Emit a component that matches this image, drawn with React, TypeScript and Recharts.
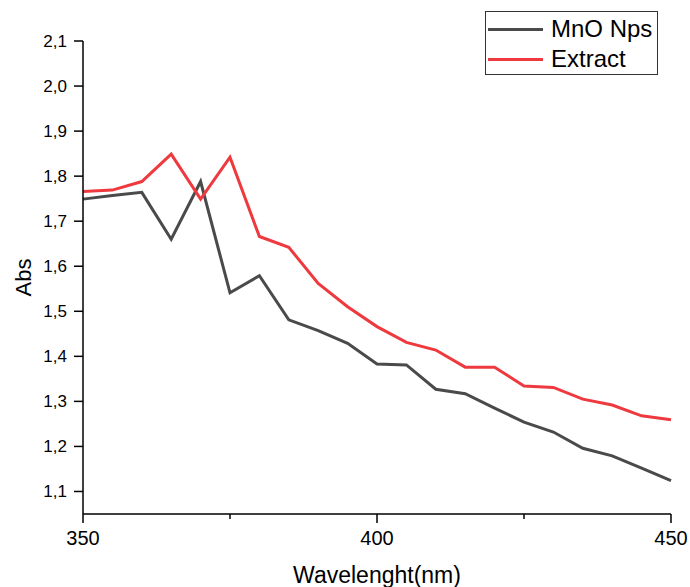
import { LineChart, Line, XAxis, YAxis } from 'recharts';

const wavelengths = [350, 355, 360, 365, 370, 375, 380, 385, 390, 395, 400, 405, 410, 415, 420, 425, 430, 435, 440, 445, 450];
const mnoNps = [1.749, 1.757, 1.764, 1.66, 1.788, 1.541, 1.579, 1.481, 1.457, 1.429, 1.383, 1.381, 1.327, 1.317, 1.285, 1.254, 1.232, 1.196, 1.179, 1.152, 1.124];
const extract = [1.766, 1.769, 1.788, 1.849, 1.749, 1.842, 1.666, 1.642, 1.562, 1.51, 1.466, 1.431, 1.414, 1.376, 1.376, 1.334, 1.331, 1.305, 1.292, 1.268, 1.259];

const xTicks = [350, 375, 400, 425, 450];
const xMajor = [350, 400, 450];
const yTicks = [1.1, 1.15, 1.2, 1.25, 1.3, 1.35, 1.4, 1.45, 1.5, 1.55, 1.6, 1.65, 1.7, 1.75, 1.8, 1.85, 1.9, 1.95, 2.0, 2.05, 2.1];

const data = wavelengths.map((w, i) => ({ w, mno: mnoNps[i], ext: extract[i] }));

const FONT = '"Liberation Sans", Arial, sans-serif';
const GRAY = '#4a4a4a';
const RED = '#ee3a3e';

const XTick = (props: any) => {
    const { x, y, payload } = props;
    const major = xMajor.includes(payload.value);
    return (
        <g>
            <line x1={x} y1={y} x2={x} y2={y + (major ? 9 : 5)} stroke="#000" strokeWidth={1.5} />
            {major && (
                <text x={x} y={y + 31} textAnchor="middle" fontSize={20} fontFamily={FONT} fill="#000">
                    {payload.value}
                </text>
            )}
        </g>
    );
};

const YTick = (props: any) => {
    const { x, y, payload } = props;
    const major = Math.round(payload.value * 100) % 10 === 0;
    return (
        <g>
            <line x1={x} y1={y} x2={x - (major ? 9 : 5)} y2={y} stroke="#000" strokeWidth={1.5} />
            {major && (
                <text x={x - 16} y={y + 6} textAnchor="end" fontSize={17} fontFamily={FONT} fill="#000">
                    {payload.value.toFixed(1).replace('.', ',')}
                </text>
            )}
        </g>
    );
};

const legendItems = [
    { name: 'MnO Nps', color: GRAY, top: 3 },
    { name: 'Extract', color: RED, top: 33 },
];

const LegendBox = () => (
    <div style={{ position: 'absolute', left: 485, top: 11, width: 171, height: 62, border: '1px solid #333', background: '#fff', fontFamily: FONT, fontSize: 24 }}>
        {legendItems.map((it) => (
            <div key={it.name} style={{ position: 'absolute', left: 2, top: it.top, display: 'flex', alignItems: 'center', height: 28 }}>
                <div style={{ width: 55, height: 3, background: it.color }} />
                <span style={{ marginLeft: 8, lineHeight: '28px' }}>{it.name}</span>
            </div>
        ))}
    </div>
);

const AbsLabel = (props: any) => {
    const vb = props.viewBox || {};
    const cy = vb.y + vb.height / 2;
    return (
        <text x={31} y={cy} transform={`rotate(-90, 31, ${cy})`} textAnchor="middle" fontSize={22} fontFamily={FONT} fill="#000">
            Abs
        </text>
    );
};

export default function App() {
    return (
        <div style={{ position: 'absolute', left: 0, top: 0, width: 690, height: 587, background: '#fff' }}>
            <LineChart width={690} height={587} data={data} margin={{ top: 41, right: 19, bottom: 0, left: 0 }}>
                <XAxis
                    dataKey="w"
                    type="number"
                    domain={[350, 450]}
                    ticks={xTicks}
                    tick={<XTick />}
                    tickSize={0}
                    tickMargin={0}
                    tickLine={false}
                    height={73}
                    axisLine={{ stroke: '#000', strokeWidth: 1.5 }}
                    label={{ value: 'Wavelenght(nm)', position: 'insideBottom', offset: 4, fontSize: 23, fontFamily: FONT, fill: '#000' }}
                />
                <YAxis
                    type="number"
                    domain={[1.05, 2.1]}
                    ticks={yTicks}
                    tick={<YTick />}
                    tickSize={0}
                    tickMargin={0}
                    tickLine={false}
                    width={83}
                    allowDataOverflow
                    axisLine={{ stroke: '#000', strokeWidth: 1.5 }}
                    label={<AbsLabel />}
                />
                <Line type="linear" dataKey="mno" name="MnO Nps" stroke={GRAY} strokeWidth={3} dot={false} isAnimationActive={false} />
                <Line type="linear" dataKey="ext" name="Extract" stroke={RED} strokeWidth={3} dot={false} isAnimationActive={false} />
            </LineChart>
            <LegendBox />
        </div>
    );
}
